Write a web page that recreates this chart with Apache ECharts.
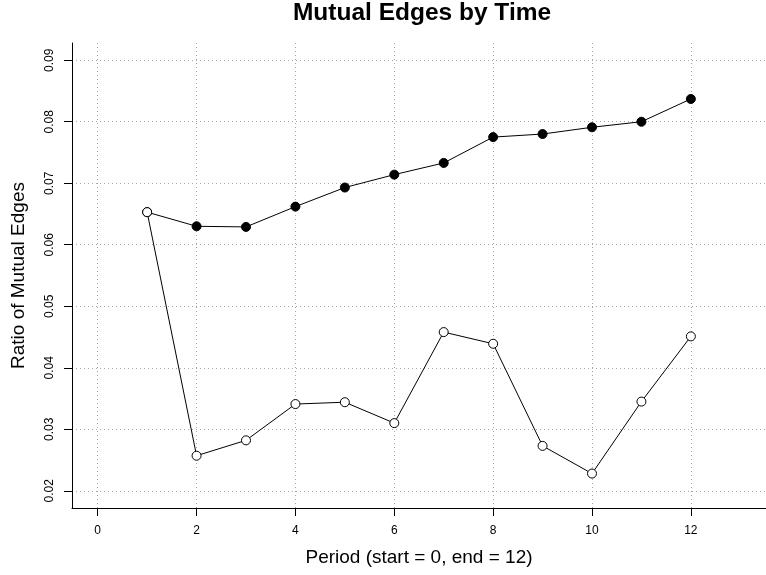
<!DOCTYPE html>
<html>
<head>
<meta charset="utf-8">
<title>Mutual Edges by Time</title>
<script src="https://cdn.jsdelivr.net/npm/echarts@6/dist/echarts.min.js"></script>
<style>
  html, body { margin: 0; padding: 0; background: #ffffff; }
  #chart { width: 766px; height: 575px; }
</style>
</head>
<body>
<div id="chart"></div>
<script>
// Periods observed (start = 0, end = 12)
const periods = [1, 2, 3, 4, 5, 6, 7, 8, 9, 10, 11, 12];

// Ratio of mutual edges, cumulative network (filled markers)
const ratioCumulative = [0.0653, 0.0630, 0.0629, 0.0662, 0.0693, 0.0714, 0.0733, 0.0775, 0.0780, 0.0791, 0.0800, 0.0837];

// Ratio of mutual edges, per-period network (open markers)
const ratioPerPeriod = [0.0653, 0.0257, 0.0282, 0.0341, 0.0344, 0.0310, 0.0458, 0.0439, 0.0273, 0.0228, 0.0345, 0.0451];

// Axis tick labels
const xTicks = [0, 2, 4, 6, 8, 10, 12];
const yTicks = [0.02, 0.03, 0.04, 0.05, 0.06, 0.07, 0.08, 0.09];

const FONT = '"Liberation Sans", Arial, Helvetica, sans-serif';

const pairs = (ys) => periods.map((p, i) => [p, ys[i]]);

const gridLine = {
  show: true,
  lineStyle: { color: '#a6a6a6', width: 1, type: [1, 3] }
};

const chart = echarts.init(document.getElementById('chart'), null, { renderer: 'canvas' });

chart.setOption({
  backgroundColor: '#ffffff',
  animation: false,
  title: {
    text: 'Mutual Edges by Time',
    left: 422,
    top: 1,
    padding: 0,
    textAlign: 'center',
    textStyle: { fontFamily: FONT, fontSize: 24.5, fontWeight: 'bold', color: '#000000' }
  },
  grid: {
    left: 72,
    top: 43,
    width: 702,
    height: 465,
    containLabel: false
  },
  xAxis: {
    type: 'value',
    min: -0.52,
    max: 13.52,
    name: 'Period (start = 0, end = 12)',
    nameLocation: 'middle',
    nameGap: 40,
    nameTextStyle: { fontFamily: FONT, fontSize: 19, color: '#000000' },
    axisLine: { show: true, onZero: false, lineStyle: { color: '#000000', width: 1 } },
    axisTick: { show: true, length: 8, customValues: xTicks, lineStyle: { color: '#000000', width: 1 } },
    axisLabel: {
      customValues: xTicks,
      margin: 17,
      fontFamily: FONT,
      fontSize: 12,
      color: '#000000'
    },
    splitLine: gridLine
  },
  yAxis: {
    type: 'value',
    min: 0.0172,
    max: 0.0928,
    name: 'Ratio of Mutual Edges',
    nameLocation: 'middle',
    nameGap: 44,
    nameRotate: 90,
    nameTextStyle: { fontFamily: FONT, fontSize: 19, color: '#000000' },
    axisLine: { show: true, onZero: false, lineStyle: { color: '#000000', width: 1 } },
    axisTick: { show: true, length: 8, customValues: yTicks, lineStyle: { color: '#000000', width: 1 } },
    axisLabel: {
      customValues: yTicks,
      rotate: 90,
      margin: 16,
      fontFamily: FONT,
      fontSize: 12,
      color: '#000000',
      formatter: (v) => v.toFixed(2)
    },
    splitLine: gridLine
  },
  series: [
    {
      name: 'Cumulative',
      type: 'line',
      data: pairs(ratioCumulative),
      symbol: 'circle',
      symbolSize: 9,
      showAllSymbol: true,
      lineStyle: { color: '#000000', width: 1 },
      itemStyle: { color: '#000000', borderColor: '#000000', borderWidth: 1 },
      z: 2
    },
    {
      name: 'Per period',
      type: 'line',
      data: pairs(ratioPerPeriod),
      symbol: 'circle',
      symbolSize: 9,
      showAllSymbol: true,
      lineStyle: { color: '#000000', width: 1 },
      itemStyle: { color: '#ffffff', borderColor: '#000000', borderWidth: 1 },
      z: 3
    }
  ]
});
</script>
</body>
</html>
